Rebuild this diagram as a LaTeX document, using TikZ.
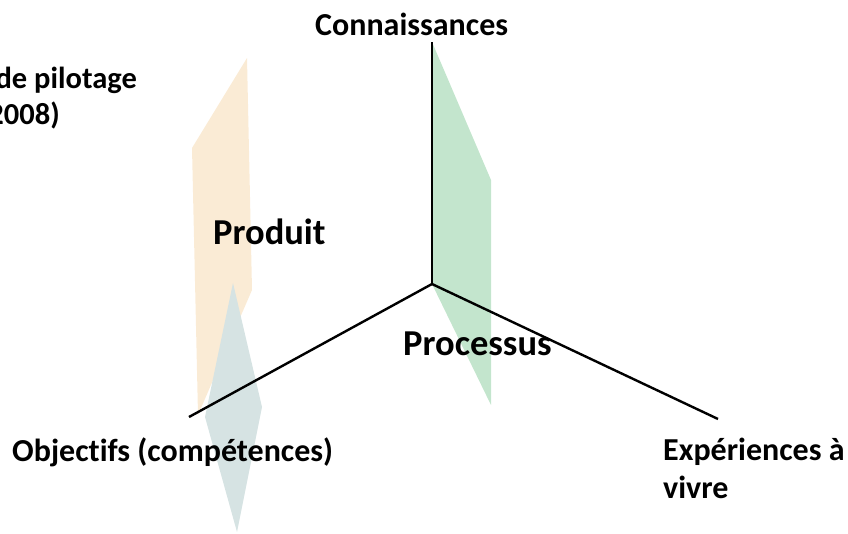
\documentclass[tikz,border=0pt]{standalone}
\usepackage{fontspec}
\setmainfont{Carlito}[Ligatures=NoCommon]
\definecolor{orangeplane}{RGB}{250,235,213}
\definecolor{greenplane}{RGB}{195,229,205}
\definecolor{blueplane}{RGB}{214,227,227}
\begin{document}
\begin{tikzpicture}[x=1pt,y=-1pt,
  axis/.style={line width=2.4pt,black},
  lbl/.style={inner sep=0pt,anchor=base west,font=\bfseries\fontsize{32}{38}\selectfont},
  pillbl/.style={inner sep=0pt,anchor=base east,font=\bfseries\fontsize{30.5}{36}\selectfont},
  biglbl/.style={inner sep=0pt,anchor=base west,font=\bfseries\fontsize{36.5}{42}\selectfont}]
\useasboundingbox (0,0) rectangle (848,534);
\clip (0,0) rectangle (848,534);
% planes
\fill[orangeplane] (247,58) -- (192,148) -- (198,415) -- (252,290) -- cycle;
\fill[blueplane] (233,283) -- (262,407) -- (237,532) -- (205,417) -- cycle;
\fill[greenplane] (432,42) -- (491,180) -- (491,405) -- (432,284) -- cycle;
% axes
\coordinate (O) at (432,284);
\coordinate (up) at (432,42);
\coordinate (lt) at (189,417);
\coordinate (rt) at (718,419);
\draw[axis] (O) -- (up);
\draw[axis] (O) -- (lt);
\draw[axis] (O) -- (rt);
% labels
\node[lbl] (conn) at (315,36) {Connaissances};
\node[lbl] (obj) at (12,461) {Objectifs (compétences)};
\node[lbl] (exp1) at (663,460) {Expériences à};
\node[lbl] (exp2) at (663,498) {vivre};
\node[pillbl] (pil1) at (137,89) {de pilotage};
\node[pillbl] (pil2) at (60,125) {(2008)};
\node[biglbl] (prod) at (213,245) {Produit};
\node[biglbl] (proc) at (403,355) {Processus};
\end{tikzpicture}
\end{document}
